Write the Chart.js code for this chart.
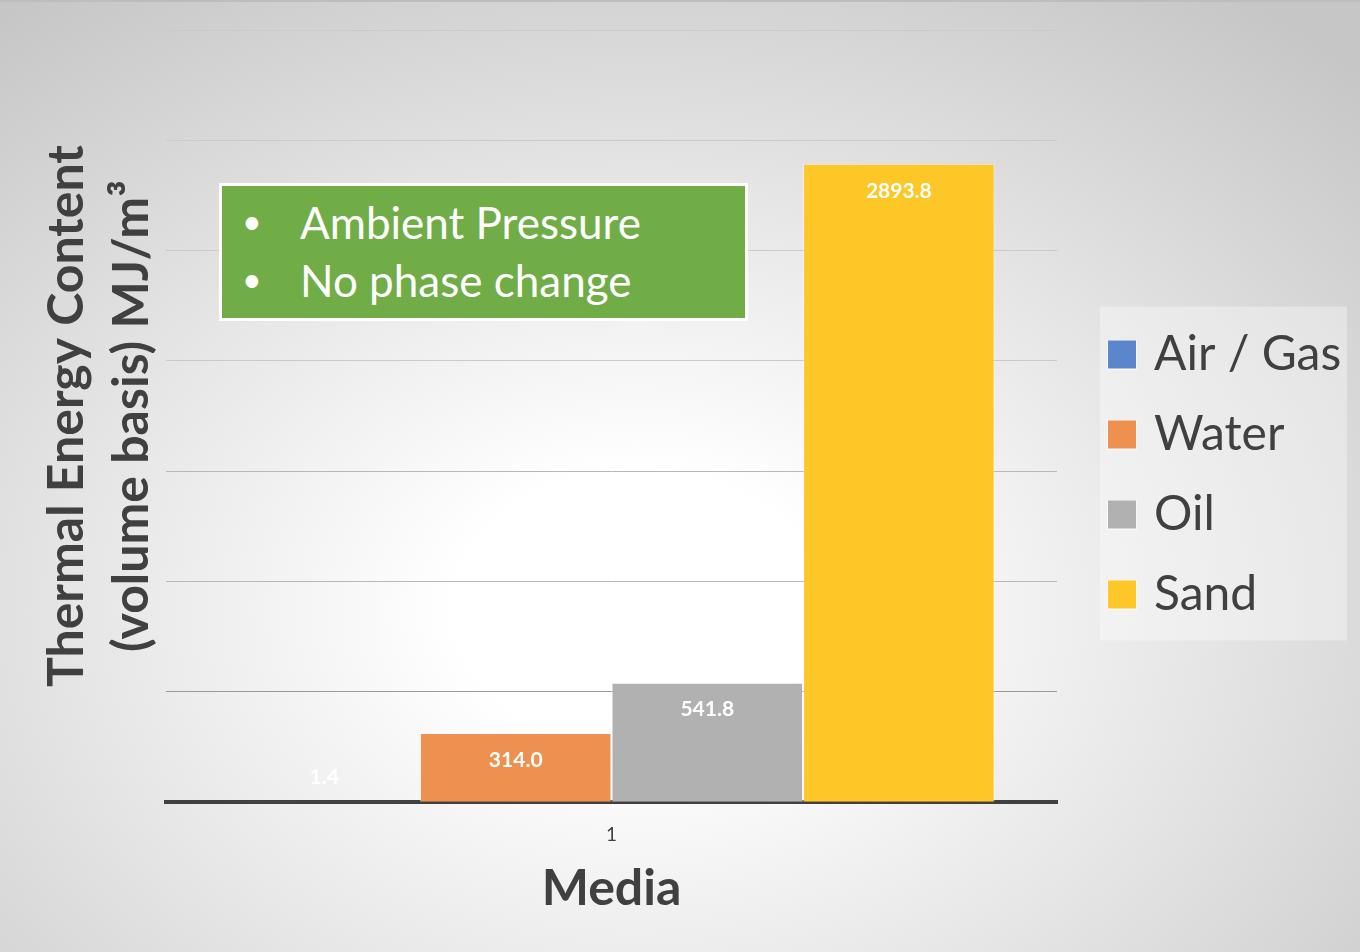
<!DOCTYPE html>
<html>
<head>
<meta charset="utf-8">
<script src="https://cdn.jsdelivr.net/npm/chart.js@4.4.0/dist/chart.umd.min.js"></script>
<style>
  html, body { margin: 0; padding: 0; }
  body {
    width: 1360px; height: 952px; overflow: hidden; position: relative;
    background: radial-gradient(ellipse 75% 80% at 47% 64%, #ffffff 0%, #ffffff 18%, #e6e6e6 55%, #c6c6c6 100%);
    border-top: 2px solid #bdbdbd; box-sizing: border-box;
  }
  #wrap { position: absolute; left: 0; top: 0; width: 1360px; height: 952px; }
  #note {
    position: absolute; left: 219px; top: 181px; width: 523px; height: 132px;
    background: #70ad47; border: 3px solid #ffffff;
    font-family: Lato, sans-serif; color: #fff; font-size: 44px;
  }
  #note div { position: absolute; left: 0; white-space: nowrap; height: 56px; }
  #note b { position: absolute; left: 20px; top: 4px; font-weight: normal; font-size: 34px; }
  #note span { position: absolute; left: 78px; top: 0; }
</style>
</head>
<body>
<div id="wrap"><canvas id="myChart" width="1360" height="952"></canvas></div>
<div id="note">
  <div style="top:10px; width:100%"><b>•</b><span>Ambient Pressure</span></div>
  <div style="top:68px; width:100%"><b>•</b><span>No phase change</span></div>
</div>
<script>
var categories = ['1'];
var seriesNames = ['Air / Gas', 'Water', 'Oil', 'Sand'];
var airGas = [1.4];
var water = [314.0];
var oil = [541.8];
var sand = [2893.8];
var colors = ['#5b86cb', '#ee9050', '#b1b1b1', '#fec728'];

// 30px legend squares, drawn narrower in the layout so the text sits closer
var swatches = colors.map(function(c) {
  var cv = document.createElement('canvas');
  cv.width = 30; cv.height = 30;
  var g = cv.getContext('2d');
  g.fillStyle = 'rgba(255,255,255,0.6)';
  g.fillRect(0, 0, 30, 30);
  g.fillStyle = c;
  g.fillRect(1, 1, 28, 28);
  return cv;
});

var bgBox = {
  id: 'bgBox',
  beforeDraw: function(chart) {
    var lg = chart.legend;
    if (!lg || !lg.legendHitBoxes.length) return;
    var hb = lg.legendHitBoxes;
    var l = hb[0].left - 14, t = hb[0].top - 24;
    var last = hb[hb.length - 1];
    var b = last.top + last.height + 22;
    var ctx = chart.ctx;
    ctx.save();
    ctx.fillStyle = 'rgba(255,255,255,0.35)';
    ctx.fillRect(l, t, lg.right - 1 - l, b - t);
    ctx.restore();
  }
};

var valueLabels = {
  id: 'valueLabels',
  afterDatasetsDraw: function(chart) {
    var ctx = chart.ctx;
    ctx.save();
    ctx.font = 'bold 21px Lato, sans-serif';
    ctx.fillStyle = '#ffffff';
    ctx.textAlign = 'center';
    ctx.textBaseline = 'middle';
    chart.data.datasets.forEach(function(ds, i) {
      chart.getDatasetMeta(i).data.forEach(function(bar, j) {
        var h = bar.base - bar.y;
        var y = h > 45 ? bar.y + 27 : bar.y - 25;
        ctx.fillText(ds.data[j].toFixed(1), bar.x, y);
      });
    });
    ctx.restore();
  }
};

var ctx = document.getElementById('myChart').getContext('2d');
var myChart = new Chart(ctx, {
  type: 'bar',
  data: {
    labels: categories,
    datasets: [
      { label: seriesNames[0], data: airGas, backgroundColor: colors[0] },
      { label: seriesNames[1], data: water, backgroundColor: colors[1] },
      { label: seriesNames[2], data: oil, backgroundColor: colors[2] },
      { label: seriesNames[3], data: sand, backgroundColor: colors[3] }
    ]
  },
  options: {
    responsive: false,
    animation: false,
    events: [],
    layout: { padding: { left: 34, right: 12, top: 28, bottom: 35 } },
    datasets: {
      bar: {
        categoryPercentage: 0.86,
        barPercentage: 1.0,
        borderWidth: 1,
        borderColor: 'rgba(255,255,255,0.45)'
      }
    },
    scales: {
      x: {
        grid: { display: false },
        border: { display: true, color: '#404040', width: 4 },
        ticks: { color: '#404040', font: { family: 'Lato', size: 19 }, padding: 13 },
        title: {
          display: true, text: 'Media', color: '#404040',
          font: { family: 'Lato', size: 50, weight: 'bold' },
          padding: { top: 0, bottom: 0 }
        }
      },
      y: {
        min: 0, max: 3500,
        ticks: { display: false, stepSize: 500 },
        border: { display: false },
        grid: {
          drawTicks: false,
          lineWidth: 1,
          color: function(c) {
            var v = c.tick ? c.tick.value : 0;
            return v <= 500 ? '#9a9a9a' : (v <= 1500 ? '#b8b8b8' : '#cacaca');
          }
        },
        title: {
          display: true,
          text: ['Thermal Energy Content', '(volume basis) MJ/m³'],
          color: '#404040',
          font: { family: 'Lato', size: 50, weight: 'bold', lineHeight: 1.3 },
          padding: { top: 0, bottom: 2 }
        }
      },
      gap: {
        position: 'right',
        grid: { display: false },
        border: { display: false },
        ticks: { display: false },
        afterFit: function(s) { s.width = 25; }
      }
    },
    plugins: {
      tooltip: { enabled: false },
      legend: {
        position: 'right',
        maxWidth: 266,
        labels: {
          color: '#404040',
          font: { family: 'Lato', size: 48 },
          usePointStyle: true,
          pointStyleWidth: 16,
          boxHeight: 30,
          padding: 32,
          generateLabels: function(chart) {
            var items = Chart.defaults.plugins.legend.labels.generateLabels(chart);
            items.forEach(function(it, i) { it.pointStyle = swatches[i]; });
            return items;
          }
        }
      }
    }
  },
  plugins: [bgBox, valueLabels]
});
</script>
</body>
</html>
